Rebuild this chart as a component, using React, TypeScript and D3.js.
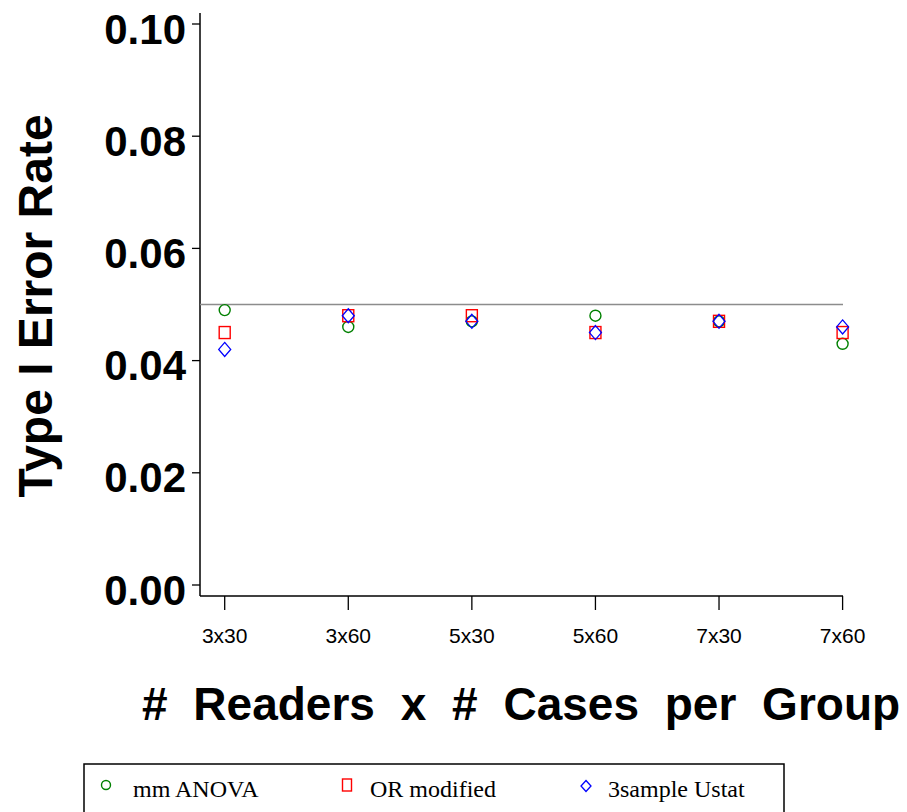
import React from "react";
import * as d3 from "d3";

const categories = ["3x30", "3x60", "5x30", "5x60", "7x30", "7x60"];
const mmAnova = [0.049, 0.046, 0.047, 0.048, 0.047, 0.043];
const orModified = [0.045, 0.048, 0.048, 0.045, 0.047, 0.045];
const ustat = [0.042, 0.048, 0.047, 0.045, 0.047, 0.046];
const yTicks = [0.0, 0.02, 0.04, 0.06, 0.08, 0.1];
const refLevel = 0.05;

const GREEN = "#008000";
const RED = "#ff0000";
const BLUE = "#0000ff";
const sans = "'Liberation Sans', Arial, sans-serif";
const serif = "'Liberation Serif', 'Times New Roman', serif";

const W = 907;
const H = 812;
const AX_X = 200;
const AX_Y = 596;

const Circle = ({ x, y, r }: { x: number; y: number; r: number }) => (
  <circle cx={x} cy={y} r={r} fill="none" stroke={GREEN} strokeWidth={1.4} />
);
const Square = ({ x, y, w, h }: { x: number; y: number; w: number; h: number }) => (
  <rect x={x - w / 2} y={y - h / 2} width={w} height={h} fill="none" stroke={RED} strokeWidth={1.4} />
);
const Diamond = ({ x, y, hw, hh }: { x: number; y: number; hw: number; hh: number }) => (
  <path
    d={`M${x},${y - hh}L${x + hw},${y}L${x},${y + hh}L${x - hw},${y}Z`}
    fill="none"
    stroke={BLUE}
    strokeWidth={1.3}
  />
);

const App = () => {
  const x = d3.scalePoint<string>().domain(categories).range([224.7, 842.6]);
  const y = d3.scaleLinear().domain([0, 0.1]).range([585, 24]);

  return (
    <svg width={W} height={H} style={{ position: "absolute", left: 0, top: 0, background: "#fff" }}>
      {/* axes */}
      <line x1={AX_X} x2={AX_X} y1={13} y2={AX_Y} stroke="#000" strokeWidth={1.5} />
      <line x1={AX_X} x2={843} y1={AX_Y} y2={AX_Y} stroke="#000" strokeWidth={1.5} />

      {yTicks.map((t) => (
        <g key={t}>
          <line x1={AX_X - 8} x2={AX_X} y1={y(t)} y2={y(t)} stroke="#000" strokeWidth={1.3} />
          <text
            x={186}
            y={y(t) + 19.5}
            textAnchor="end"
            fontFamily={sans}
            fontWeight="bold"
            fontSize={42}
          >
            {d3.format(".2f")(t)}
          </text>
        </g>
      ))}

      {categories.map((c) => (
        <g key={c}>
          <line x1={x(c)} x2={x(c)} y1={AX_Y} y2={610} stroke="#000" strokeWidth={1.3} />
          <text
            x={x(c)}
            y={643}
            textAnchor="middle"
            fontFamily="'Liberation Sans Narrow', 'Liberation Sans', Arial, sans-serif"
            fontSize={21}
          >
            {c}
          </text>
        </g>
      ))}

      {/* reference line */}
      <line x1={AX_X} x2={843} y1={y(refLevel)} y2={y(refLevel)} stroke="#8c8c8c" strokeWidth={1.5} />

      {/* markers */}
      {categories.map((c, i) => (
        <g key={c}>
          <Circle x={x(c)!} y={y(mmAnova[i])} r={5.5} />
          <Square x={x(c)!} y={y(orModified[i])} w={11} h={12} />
          <Diamond x={x(c)!} y={y(ustat[i])} hw={6} hh={7} />
        </g>
      ))}

      {/* axis titles */}
      <text
        transform="translate(52,306) rotate(-90)"
        textAnchor="middle"
        fontFamily={sans}
        fontWeight="bold"
        fontSize={48}
      >
        Type I Error Rate
      </text>
      <text x={142} y={720} fontFamily={sans} fontWeight="bold" fontSize={46} wordSpacing={13}>
        # Readers x # Cases per Group
      </text>

      {/* legend */}
      <rect x={84} y={764} width={700} height={60} fill="none" stroke="#000" strokeWidth={1.5} />
      <Circle x={106} y={785} r={4.5} />
      <text x={133} y={797} fontFamily={serif} fontSize={24}>
        mm ANOVA
      </text>
      <Square x={347} y={785} w={9} h={12} />
      <text x={370} y={797} fontFamily={serif} fontSize={24}>
        OR modified
      </text>
      <Diamond x={586} y={786} hw={5} hh={5.5} />
      <text x={608} y={797} fontFamily={serif} fontSize={24}>
        3sample Ustat
      </text>
    </svg>
  );
};

export default App;
